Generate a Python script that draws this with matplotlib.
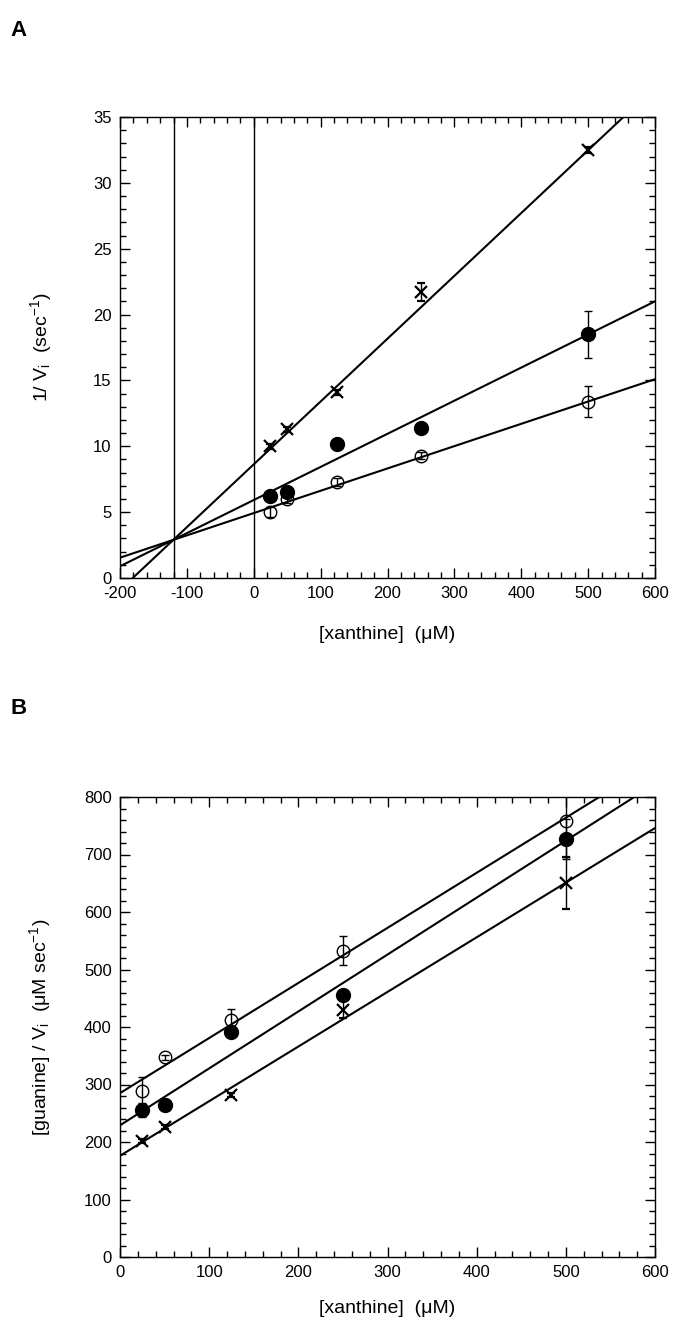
import numpy as np
import matplotlib
matplotlib.use("Agg")
import matplotlib.pyplot as plt
from matplotlib.ticker import MultipleLocator

plt.rcParams["font.family"] = ["Liberation Sans", "DejaVu Sans"]
plt.rcParams["mathtext.fontset"] = "custom"
plt.rcParams["mathtext.rm"] = "Liberation Sans"
plt.rcParams["mathtext.it"] = "Liberation Sans"
plt.rcParams["axes.unicode_minus"] = False

# Panel A: 1/Vi vs [xanthine]
xan = [25, 50, 125, 250, 500]
a_cross = [10.0, 11.3, 14.1, 21.7, 32.5]
a_cross_err = [0.2, 0.2, 0.2, 0.7, 0.2]
a_filled = [6.2, 6.5, 10.2, 11.4, 18.5]
a_filled_err = [0.2, 0.2, 0.2, 0.2, 1.8]
a_open = [5.0, 6.0, 7.3, 9.3, 13.4]
a_open_err = [0.4, 0.3, 0.3, 0.3, 1.2]
# fitted lines (slope, intercept)
a_fit_slopes = [0.0477, 0.02514, 0.01694]
a_fit_intercepts = [8.63, 5.92, 4.93]
a_vlines = [-120, 0]

# Panel B: [guanine]/Vi vs [xanthine]
b_open = [288, 347, 412, 533, 758]
b_open_err = [25, 5, 20, 25, 62]
b_filled = [255, 265, 392, 456, 727]
b_filled_err = [12, 10, 8, 8, 35]
b_cross = [202, 226, 282, 430, 650]
b_cross_err = [4, 4, 4, 15, 45]
b_fit_slopes = [0.958, 0.990, 0.950]
b_fit_intercepts = [285, 229, 176]

W, H = 679, 1328
fig = plt.figure(figsize=(W / 100, H / 100), dpi=100)
axA = fig.add_axes([120 / W, 1 - 578 / H, 535 / W, 461 / H])
axB = fig.add_axes([120 / W, 1 - 1257 / H, 535 / W, 460 / H])

mk = dict(color="black", ecolor="black", elinewidth=1.0, capsize=3, capthick=1.0, linestyle="none")


def draw_points(ax, y, err, kind):
    if kind == "open":
        ax.errorbar(xan, y, yerr=err, marker="o", ms=9, mfc="none", mec="black", mew=1.0, zorder=3, **mk)
    elif kind == "filled":
        ax.errorbar(xan, y, yerr=err, marker="o", ms=10, mfc="black", mec="black", zorder=3, **mk)
    else:
        ax.errorbar(xan, y, yerr=err, marker="x", ms=8, mew=1.6, zorder=3, **mk)


def style_axes(ax, xmaj, xmin, ymaj, ymin):
    ax.xaxis.set_major_locator(MultipleLocator(xmaj))
    ax.xaxis.set_minor_locator(MultipleLocator(xmin))
    ax.yaxis.set_major_locator(MultipleLocator(ymaj))
    ax.yaxis.set_minor_locator(MultipleLocator(ymin))
    ax.tick_params(which="both", direction="in", top=True, right=True, labelsize=12, width=1.0)
    ax.tick_params(which="major", length=7, pad=6)
    ax.tick_params(which="minor", length=4)
    for s in ax.spines.values():
        s.set_linewidth(1.0)


# --- Panel A
xs = np.array([-200, 600])
for m, b in zip(a_fit_slopes, a_fit_intercepts):
    axA.plot(xs, m * xs + b, color="black", lw=1.5, zorder=2)
for v in a_vlines:
    axA.axvline(v, color="black", lw=1.0, zorder=1)
draw_points(axA, a_cross, a_cross_err, "cross")
draw_points(axA, a_filled, a_filled_err, "filled")
draw_points(axA, a_open, a_open_err, "open")
axA.set_xlim(-200, 600)
axA.set_ylim(0, 35)
style_axes(axA, 100, 20, 5, 1)
axA.set_xlabel("[xanthine]  (\u03bcM)", fontsize=14, labelpad=18)
axA.set_ylabel("1/ V$_{\\mathrm{i}}$  (sec$^{-1}$)", fontsize=14, labelpad=28)

# --- Panel B
xs = np.array([0, 600])
for m, b in zip(b_fit_slopes, b_fit_intercepts):
    axB.plot(xs, m * xs + b, color="black", lw=1.5, zorder=2)
draw_points(axB, b_open, b_open_err, "open")
draw_points(axB, b_filled, b_filled_err, "filled")
draw_points(axB, b_cross, b_cross_err, "cross")
axB.set_xlim(0, 600)
axB.set_ylim(0, 800)
style_axes(axB, 100, 20, 100, 20)
axB.set_xlabel("[xanthine]  (\u03bcM)", fontsize=14, labelpad=14)
axB.set_ylabel("[guanine] / V$_{\\mathrm{i}}$  (\u03bcM sec$^{-1}$)", fontsize=14, labelpad=22)

fig.text(10 / W, 1 - 30 / H, "A", fontsize=16, fontweight="bold", va="center", ha="left")
fig.text(10 / W, 1 - 708 / H, "B", fontsize=16, fontweight="bold", va="center", ha="left")

fig.savefig("out.png", dpi=100)
